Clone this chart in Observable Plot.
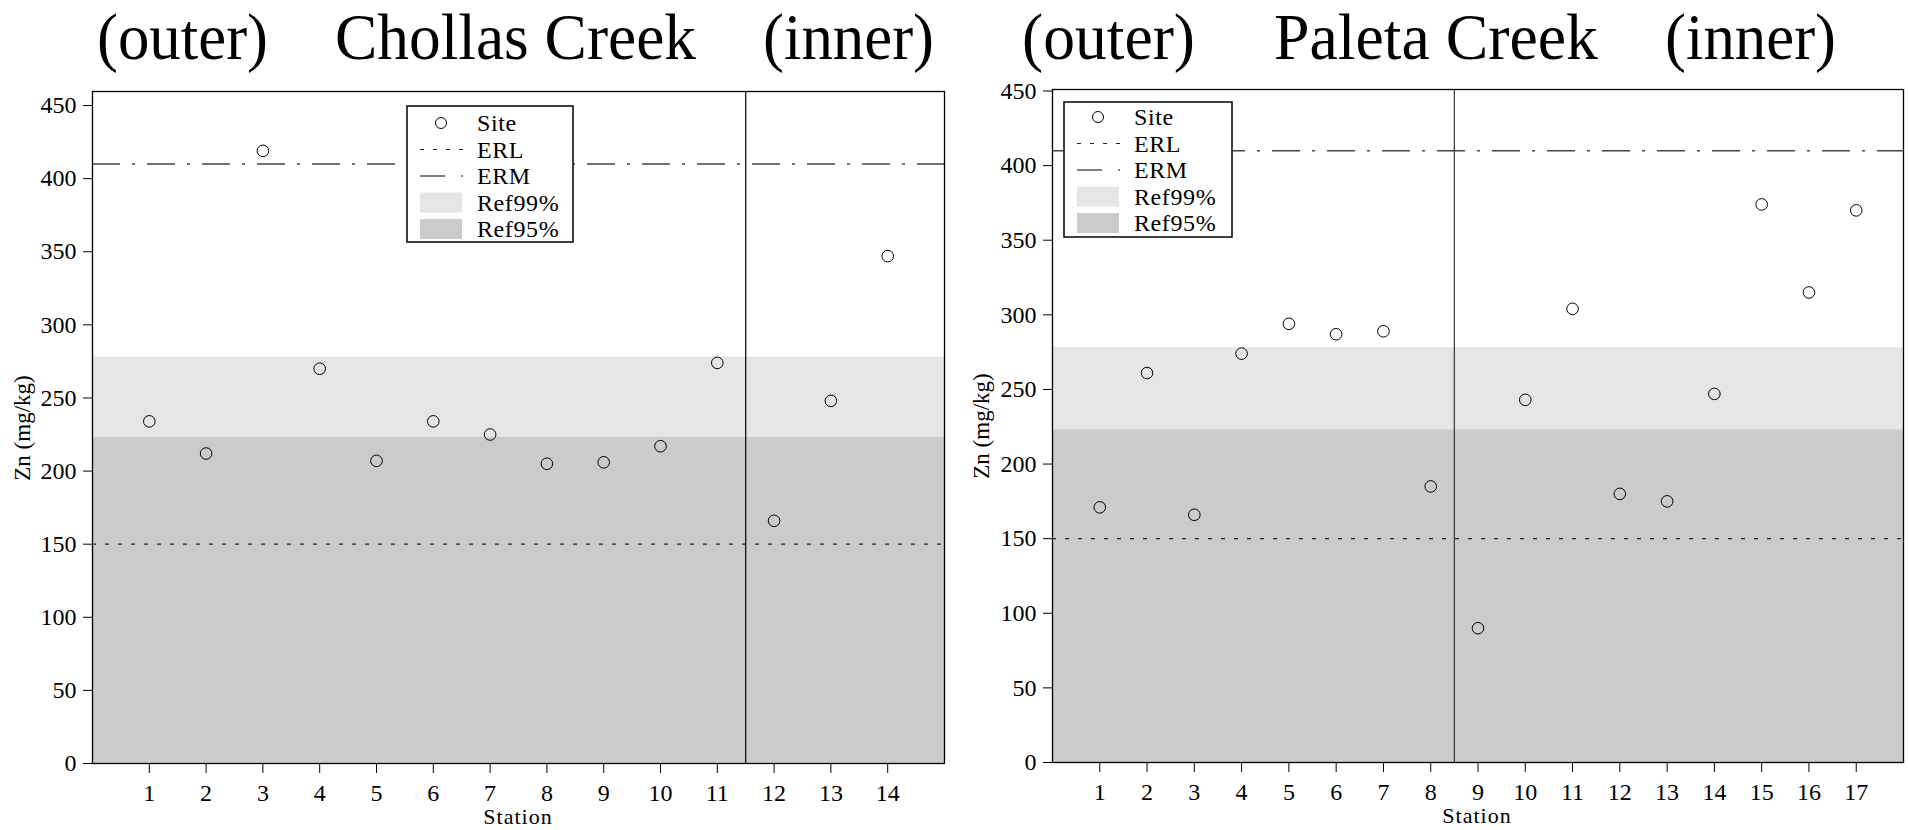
<!DOCTYPE html>
<html><head><meta charset="utf-8">
<script src="https://cdn.jsdelivr.net/npm/d3@7"></script>
<script src="https://cdn.jsdelivr.net/npm/@observablehq/plot@0.6"></script>
<style>
body{margin:0;background:#fff;width:1908px;height:830px;overflow:hidden;position:relative;font-family:"Liberation Serif","Times New Roman",serif;}
.panel{position:absolute;top:0;}
.overlay{position:absolute;left:0;top:0;}
svg, svg text{font-family:"Liberation Serif","Times New Roman",serif !important;}
</style></head><body>
<script>
// ---------------- data ----------------
const chollasStations = [1,2,3,4,5,6,7,8,9,10,11,12,13,14];
const chollasZn = [234,212,419,270,207,234,225,205,206,217,274,166,248,347];
const chollasDivider = [11.5];
const chollasTitles = ["(outer)", "Chollas Creek", "(inner)"];

const paletaStations = [1,2,3,4,5,6,7,8,9,10,11,12,13,14,15,16,17];
const paletaZn = [171,261,166,274,294,287,289,185,90,243,304,180,175,247,374,315,370];
const paletaDivider = [8.5];
const paletaTitles = ["(outer)", "Paleta Creek", "(inner)"];

const ERL = [150];
const ERM = [410];
const REF95 = [223];
const REF99 = [278];
const yTicks = [0,50,100,150,200,250,300,350,400,450];
const legendLabels = ["Site","ERL","ERM","Ref99%","Ref95%"];
const yLabel = "Zn (mg/kg)";
const xLabel = "Station";

// ---------------- style ----------------
const FONT = '"Liberation Serif", "Times New Roman", serif';
const C95 = "#cbcbcb", C99 = "#e5e5e5";
const ERL_DASH = "4,9", ERM_DASH = "28,12,3,12";

function makePanel(cfg) {
  const rows = cfg.stations.map((s, i) => ({station: s, zn: cfg.values[i]}));
  const chart = Plot.plot({
    width: cfg.width, height: 830,
    marginLeft: cfg.ml, marginRight: cfg.mr, marginTop: cfg.mt, marginBottom: cfg.mb,
    style: {fontFamily: FONT, fontSize: "24px", color: "#000", background: "transparent", overflow: "visible"},
    x: {type: "linear", domain: [0, cfg.stations.length + 1]},
    y: {type: "linear", domain: [0, cfg.ytop]},
    marks: [
      Plot.rectY(REF95, {y1: 0, y2: d => d, fill: C95}),
      Plot.rectY(REF95.map((d, i) => ({lo: d, hi: REF99[i]})), {y1: "lo", y2: "hi", fill: C99}),
      Plot.ruleY(ERL, {stroke: "#222", strokeWidth: 1.2, strokeDasharray: ERL_DASH}),
      Plot.ruleY(ERM, {stroke: "#444", strokeWidth: 1.5, strokeDasharray: ERM_DASH}),
      Plot.ruleX(cfg.divider, {stroke: cfg.dividerColor, strokeWidth: 1.3}),
      Plot.dot(rows, {x: "station", y: "zn", r: 5.8, stroke: "#000", strokeWidth: 1, fill: "none"}),
      Plot.frame({stroke: "#000", strokeWidth: 1.3}),
      Plot.axisY({ticks: yTicks, tickFormat: d => String(d), tickSize: 9, tickPadding: 7, label: null, fontSize: 24, stroke: "#000"}),
      Plot.axisX({ticks: cfg.stations, tickFormat: d => String(d), tickSize: 10, tickPadding: 10, label: null, fontSize: 24, stroke: "#000"})
    ]
  });
  chart.classList.add("panel");
  chart.style.left = cfg.left + "px";
  d3.select(chart).selectAll("text").attr("font-family", FONT);
  document.body.appendChild(chart);
}

makePanel({left: 0, width: 960, ml: 92, mr: 16, mt: 91, mb: 67, ytop: 459.6,
  stations: chollasStations, values: chollasZn, divider: chollasDivider, dividerColor: "#111"});
makePanel({left: 960, width: 948, ml: 92, mr: 5, mt: 89, mb: 68, ytop: 451,
  stations: paletaStations, values: paletaZn, divider: paletaDivider, dividerColor: "#444"});

// ---------------- overlay: titles, axis labels, legends ----------------
const svg = d3.select(document.body).append("svg").attr("class", "overlay")
  .attr("width", 1908).attr("height", 830).attr("font-family", FONT);

const titleLayout = [
  {texts: chollasTitles, spans: [[97, 171], [335, 361], [763, 171]]},
  {texts: paletaTitles, spans: [[1022, 173], [1274, 324], [1665, 171]]}
];
titleLayout.forEach(t => t.texts.forEach((txt, i) => {
  svg.append("text").attr("x", t.spans[i][0]).attr("y", 59).attr("font-size", 66)
    .attr("textLength", t.spans[i][1]).attr("lengthAdjust", "spacingAndGlyphs").text(txt);
}));

// axis titles
[[22, 428], [981, 426]].forEach(([x, y]) => {
  svg.append("text").attr("transform", `translate(${x},${y}) rotate(-90)`)
    .attr("text-anchor", "middle").attr("dy", "0.35em").attr("font-size", 23).text(yLabel);
});
[[518, 824], [1477, 823]].forEach(([x, y]) => {
  svg.append("text").attr("x", x).attr("y", y).attr("text-anchor", "middle")
    .attr("font-size", 22).attr("letter-spacing", "1").text(xLabel);
});

// legends
function legend(x0, y0, w, h, first, step) {
  const g = svg.append("g").attr("transform", `translate(${x0},${y0})`);
  g.append("rect").attr("width", w).attr("height", h).attr("fill", "#fff").attr("stroke", "#000").attr("stroke-width", 1.5);
  legendLabels.forEach((lab, i) => {
    const cy = first + i * step;
    if (i === 0) g.append("circle").attr("cx", 34).attr("cy", cy).attr("r", 5.5).attr("fill", "none").attr("stroke", "#000");
    if (i === 1) g.append("line").attr("x1", 13).attr("x2", 57).attr("y1", cy).attr("y2", cy).attr("stroke", "#222").attr("stroke-width", 1.2).attr("stroke-dasharray", "4,9");
    if (i === 2) {
      g.append("line").attr("x1", 13).attr("x2", 38).attr("y1", cy).attr("y2", cy).attr("stroke", "#555").attr("stroke-width", 1.5);
      g.append("line").attr("x1", 54).attr("x2", 56).attr("y1", cy).attr("y2", cy).attr("stroke", "#555").attr("stroke-width", 1.5);
    }
    if (i === 3) g.append("rect").attr("x", 13).attr("y", cy - 10).attr("width", 42).attr("height", 20).attr("fill", C99);
    if (i === 4) g.append("rect").attr("x", 13).attr("y", cy - 10).attr("width", 42).attr("height", 20).attr("fill", C95);
    g.append("text").attr("x", 70).attr("y", cy).attr("dy", "0.35em").attr("font-size", 24).attr("letter-spacing", "0.6").text(lab);
  });
}
legend(407, 106, 166, 136, 17, 26.5);
legend(1064, 102, 168, 135, 15, 26.5);
</script>
</body></html>
